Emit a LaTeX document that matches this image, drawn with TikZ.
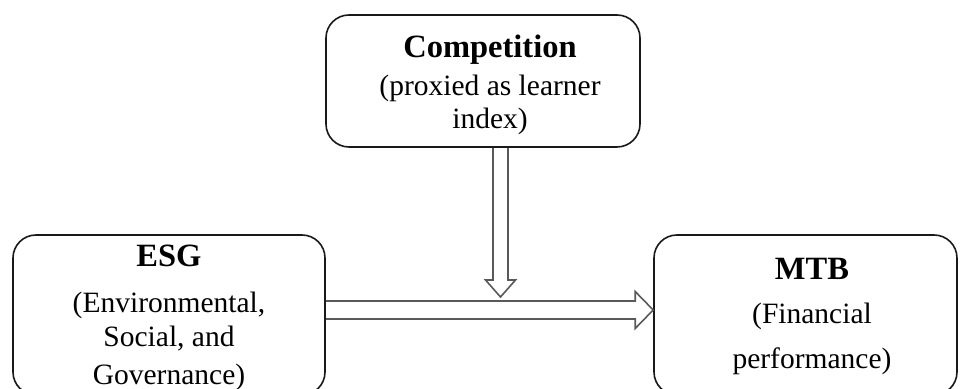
\documentclass[tikz,border=0pt]{standalone}
\usepackage{fontspec}
\setmainfont{Liberation Serif}
\usetikzlibrary{positioning,calc}
\definecolor{arrowgray}{gray}{0.35}
\tikzset{
  box/.style={draw=black!90,line width=0.8pt,rounded corners=11.5pt,inner sep=0pt},
  boxtext/.style={inner sep=0pt,align=center,font=\fontsize{14.75pt}{17.5pt}\selectfont},
  hollow/.style={draw=arrowgray,line width=0.8pt,line join=miter}
}
\newcommand{\boxtitle}[1]{\textbf{\fontsize{16.25pt}{17.5pt}\selectfont #1}}

\begin{document}
\begin{tikzpicture}[x=0.5pt,y=0.5pt]
  % frame of the picture
  \clip (0,0) rectangle (960,389);

  % the three boxes
  \node[box,minimum width=157pt,minimum height=66pt] (comp) at (483,308) {};
  \node[box,minimum width=156pt,minimum height=80pt] (esg) at (169,74) {};
  \node[box,minimum width=151.5pt,minimum height=80pt] (mtb) at (805.5,74) {};

  % texts in the boxes
  \node[boxtext,below=10pt of comp.north,xshift=3.5pt] (comptext)
    {\boxtitle{Competition}\\[1.5pt] (proxied as learner\\[-1pt] index)};
  \node[boxtext,below=5pt of esg.north] (esgtext)
    {\boxtitle{ESG}\\[5.5pt] (Environmental,\\[-0.5pt] Social, and\\[1.5pt] Governance)};
  \node[boxtext,below=12pt of mtb.north,xshift=3.25pt] (mtbtext)
    {\boxtitle{MTB}\\[4.5pt] (Financial\\[5pt] performance)};

  % hollow arrow ESG -> MTB
  \coordinate (h1) at ([yshift=2.5pt]esg.east);
  \coordinate (h2) at (h1 -| mtb.west);
  \draw[hollow] ($(h1)+(0,9)$) -- ($(h2)+(-18,9)$) -- ++(0,9.5) -- (h2)
    -- ++(-18,-18.5) -- ++(0,9.5) -- ($(h1)+(0,-9)$);

  % hollow arrow from Competition down onto the first one
  \coordinate (v1) at ([xshift=8.75pt]comp.south);
  \coordinate (v2) at ($(v1 |- h1)+(0,13)$);
  \draw[hollow] ($(v1)+(-7.5,0)$) -- ($(v2)+(-7.5,17)$) -- ++(-7.5,0) -- (v2)
    -- ++(15,17) -- ++(-7.5,0) -- ($(v1)+(7.5,0)$);
\end{tikzpicture}
\end{document}
